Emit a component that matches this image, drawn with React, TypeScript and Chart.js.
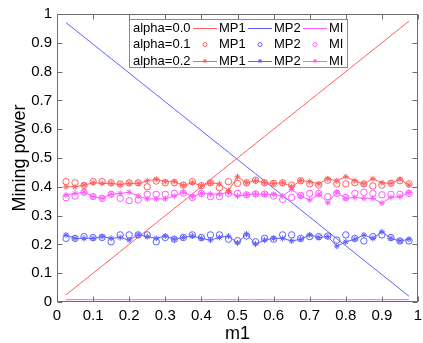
import React, { useEffect, useRef } from "react";
import { Chart, registerables } from "chart.js";
Chart.register(...registerables);

const M1 = [0.025, 0.05, 0.075, 0.1, 0.125, 0.15, 0.175, 0.2, 0.225, 0.25, 0.275, 0.3, 0.325, 0.35, 0.375, 0.4, 0.425, 0.45, 0.475, 0.5, 0.525, 0.55, 0.575, 0.6, 0.625, 0.65, 0.675, 0.7, 0.725, 0.75, 0.775, 0.8, 0.825, 0.85, 0.875, 0.9, 0.925, 0.95, 0.975];

const MP1_A0 = [0.025, 0.05, 0.075, 0.1, 0.125, 0.15, 0.175, 0.2, 0.225, 0.25, 0.275, 0.3, 0.325, 0.35, 0.375, 0.4, 0.425, 0.45, 0.475, 0.5, 0.525, 0.55, 0.575, 0.6, 0.625, 0.65, 0.675, 0.7, 0.725, 0.75, 0.775, 0.8, 0.825, 0.85, 0.875, 0.9, 0.925, 0.95, 0.975];
const MP2_A0 = [0.97, 0.945, 0.92, 0.895, 0.87, 0.845, 0.82, 0.795, 0.77, 0.745, 0.72, 0.695, 0.67, 0.645, 0.62, 0.595, 0.57, 0.545, 0.52, 0.495, 0.47, 0.445, 0.42, 0.395, 0.37, 0.345, 0.32, 0.295, 0.27, 0.245, 0.22, 0.195, 0.17, 0.145, 0.12, 0.095, 0.07, 0.045, 0.02];
const MI_A0 = [0.008, 0.008, 0.008, 0.008, 0.008, 0.008, 0.008, 0.008, 0.008, 0.008, 0.008, 0.008, 0.008, 0.008, 0.008, 0.008, 0.008, 0.008, 0.008, 0.008, 0.008, 0.008, 0.008, 0.008, 0.008, 0.008, 0.008, 0.008, 0.008, 0.008, 0.008, 0.008, 0.008, 0.008, 0.008, 0.008, 0.008, 0.008, 0.008];

const MP1_A1 = [0.418, 0.414, 0.405, 0.418, 0.418, 0.414, 0.41, 0.414, 0.414, 0.4, 0.42, 0.414, 0.414, 0.406, 0.418, 0.404, 0.414, 0.397, 0.418, 0.412, 0.414, 0.423, 0.414, 0.412, 0.414, 0.406, 0.421, 0.41, 0.406, 0.423, 0.41, 0.41, 0.414, 0.41, 0.403, 0.406, 0.412, 0.421, 0.41];
const MP2_A1 = [0.221, 0.221, 0.227, 0.224, 0.224, 0.209, 0.233, 0.233, 0.233, 0.233, 0.209, 0.224, 0.218, 0.224, 0.233, 0.224, 0.233, 0.233, 0.218, 0.213, 0.229, 0.209, 0.221, 0.218, 0.233, 0.233, 0.221, 0.227, 0.227, 0.229, 0.215, 0.233, 0.221, 0.212, 0.227, 0.233, 0.224, 0.212, 0.212];
const MI_A1 = [0.362, 0.368, 0.381, 0.366, 0.36, 0.374, 0.36, 0.352, 0.354, 0.374, 0.374, 0.374, 0.377, 0.378, 0.363, 0.377, 0.366, 0.366, 0.377, 0.377, 0.372, 0.375, 0.375, 0.368, 0.356, 0.363, 0.37, 0.377, 0.377, 0.366, 0.377, 0.363, 0.377, 0.381, 0.377, 0.372, 0.374, 0.374, 0.377];

const MP1_A2 = [0.4, 0.4, 0.406, 0.414, 0.412, 0.412, 0.408, 0.412, 0.412, 0.421, 0.426, 0.418, 0.418, 0.405, 0.414, 0.404, 0.414, 0.41, 0.387, 0.435, 0.414, 0.421, 0.414, 0.412, 0.414, 0.4, 0.422, 0.418, 0.41, 0.428, 0.421, 0.435, 0.421, 0.41, 0.428, 0.414, 0.412, 0.426, 0.406];
const MP2_A2 = [0.233, 0.221, 0.221, 0.221, 0.227, 0.221, 0.224, 0.215, 0.233, 0.227, 0.221, 0.229, 0.218, 0.224, 0.229, 0.221, 0.215, 0.224, 0.229, 0.205, 0.236, 0.201, 0.215, 0.221, 0.221, 0.212, 0.218, 0.233, 0.224, 0.227, 0.194, 0.209, 0.218, 0.233, 0.221, 0.244, 0.221, 0.212, 0.218];
const MI_A2 = [0.372, 0.377, 0.381, 0.366, 0.36, 0.374, 0.377, 0.381, 0.368, 0.358, 0.358, 0.358, 0.368, 0.381, 0.366, 0.377, 0.375, 0.375, 0.381, 0.368, 0.372, 0.375, 0.374, 0.374, 0.368, 0.391, 0.368, 0.354, 0.374, 0.345, 0.381, 0.36, 0.363, 0.36, 0.36, 0.343, 0.363, 0.366, 0.38];

const LEGEND_ROWS = ["alpha=0.0", "alpha=0.1", "alpha=0.2"];
const SERIES_NAMES = ["MP1", "MP2", "MI"];
const X_TITLE = "m1";
const Y_TITLE = "Mining power";

const RED = "rgb(255,95,95)";
const BLUE = "rgb(95,95,255)";
const MAG = "rgb(255,90,255)";
const COLORS = [RED, BLUE, MAG];
const AXIS = "#6e6e6e";
const FONT = "'Liberation Sans', Arial, Helvetica, sans-serif";

const pts = (ys: number[]) => M1.map((x, i) => ({ x, y: ys[i] }));

function drawStar(ctx: CanvasRenderingContext2D, x: number, y: number, r: number) {
  ctx.beginPath();
  ctx.moveTo(x - r, y); ctx.lineTo(x + r, y);
  ctx.moveTo(x, y - r); ctx.lineTo(x, y + r);
  const d = r * 0.7071;
  ctx.moveTo(x - d, y - d); ctx.lineTo(x + d, y + d);
  ctx.moveTo(x - d, y + d); ctx.lineTo(x + d, y - d);
  ctx.stroke();
}

const framePlugin = {
  id: "frame",
  afterDatasetsDraw(chart: any) {
    const { ctx, chartArea: a, scales } = chart;
    ctx.save();
    ctx.strokeStyle = AXIS;
    ctx.lineWidth = 1;
    const L = Math.round(a.left) + 0.5, R = Math.round(a.right) - 0.5;
    const T = Math.round(a.top) + 0.5, B = Math.round(a.bottom) - 0.5;
    ctx.strokeRect(L, T, R - L, B - T);
    const tl = 5;
    ctx.beginPath();
    scales.x.ticks.forEach((t: any) => {
      const px = Math.round(scales.x.getPixelForValue(t.value)) + 0.5;
      ctx.moveTo(px, B); ctx.lineTo(px, B - tl);
      ctx.moveTo(px, T); ctx.lineTo(px, T + tl);
    });
    scales.y.ticks.forEach((t: any) => {
      const py = Math.round(scales.y.getPixelForValue(t.value)) + 0.5;
      ctx.moveTo(L, py); ctx.lineTo(L + tl, py);
      ctx.moveTo(R, py); ctx.lineTo(R - tl, py);
    });
    ctx.stroke();

    // legend
    const bx = 129.5, by = 19.5, bw = 218, bh = 48;
    ctx.fillStyle = "#fff";
    ctx.fillRect(bx, by, bw, bh);
    ctx.strokeStyle = "#8a8a8a";
    ctx.strokeRect(bx, by, bw, bh);
    ctx.font = `13px ${FONT}`;
    ctx.textBaseline = "middle";
    ctx.fillStyle = "#000";
    const rowY = [28, 44.5, 61];
    const lineX = [193, 248, 303];
    const textX = [219, 274, 329];
    LEGEND_ROWS.forEach((lab, r) => {
      const y = rowY[r];
      ctx.fillStyle = "#000";
      ctx.textAlign = "left";
      ctx.fillText(lab, 133, y);
      SERIES_NAMES.forEach((nm, s) => {
        ctx.strokeStyle = COLORS[s];
        ctx.lineWidth = 1;
        const x0 = lineX[s], x1 = x0 + 24, xc = (x0 + x1) / 2;
        if (r !== 1) {
          ctx.beginPath();
          ctx.moveTo(x0, Math.round(y) + 0.5);
          ctx.lineTo(x1, Math.round(y) + 0.5);
          ctx.stroke();
        }
        if (r === 1) {
          ctx.beginPath();
          ctx.arc(xc, y, 2, 0, Math.PI * 2);
          ctx.stroke();
        }
        if (r === 2) {
          drawStar(ctx, xc, y, 2);
        }
        ctx.fillStyle = "#000";
        ctx.fillText(nm, textX[s], y);
      });
    });
    ctx.restore();
  },
};

export default function App() {
  const ref = useRef<HTMLCanvasElement>(null);
  useEffect(() => {
    if (!ref.current) return;
    const fitX = (s: any) => { s.height = 41; s.paddingLeft = 0; s.paddingRight = 0; };
    const fitY = (s: any) => { s.width = 57; s.paddingTop = 0; s.paddingBottom = 0; };
    const lineDs = (ys: number[], c: string) => ({
      data: pts(ys), borderColor: c, backgroundColor: c, borderWidth: 1,
      pointRadius: 0, showLine: true, tension: 0,
    });
    const circDs = (ys: number[], c: string) => ({
      data: pts(ys), borderColor: c, backgroundColor: "rgba(0,0,0,0)", borderWidth: 1,
      pointRadius: 3.2, pointStyle: "circle", showLine: false,
    });
    const starDs = (ys: number[], c: string) => ({
      data: pts(ys), borderColor: c, backgroundColor: c, borderWidth: 1,
      pointRadius: 3, pointStyle: "star", showLine: true, tension: 0,
    });
    const chart = new Chart(ref.current, {
      type: "scatter",
      data: {
        datasets: [
          starDs(MP1_A2, RED), starDs(MP2_A2, BLUE), starDs(MI_A2, MAG),
          circDs(MP1_A1, RED), circDs(MP2_A1, BLUE), circDs(MI_A1, MAG),
          lineDs(MP1_A0, RED), lineDs(MP2_A0, BLUE), lineDs(MI_A0, MAG),
        ] as any,
      },
      plugins: [framePlugin],
      options: {
        animation: false,
        responsive: false,
        devicePixelRatio: 1,
        layout: { padding: { top: 14, right: 3, left: 0, bottom: 0 } },
        plugins: { legend: { display: false }, tooltip: { enabled: false } },
        scales: {
          x: {
            type: "linear", min: 0, max: 1,
            grid: { display: false, drawTicks: false, tickLength: 0 },
            border: { display: false },
            ticks: {
              stepSize: 0.1, padding: 5, color: "#000", maxRotation: 0, autoSkip: false,
              font: { family: FONT, size: 15 },
              callback: (v: any) => String(Number(Number(v).toFixed(1))),
            },
            title: { display: true, text: X_TITLE, color: "#000", font: { family: FONT, size: 18 }, padding: { top: 0, bottom: -2 } },
            afterFit: fitX,
          },
          y: {
            type: "linear", min: 0, max: 1,
            grid: { display: false, drawTicks: false, tickLength: 0 },
            border: { display: false },
            ticks: {
              stepSize: 0.1, padding: 5, color: "#000", autoSkip: false,
              font: { family: FONT, size: 15 },
              callback: (v: any) => String(Number(Number(v).toFixed(1))),
            },
            title: { display: true, text: Y_TITLE, color: "#000", font: { family: FONT, size: 18 }, padding: { top: 9, bottom: 0 } },
            afterFit: fitY,
          },
        },
      } as any,
    });
    return () => chart.destroy();
  }, []);
  return (
    <div style={{ position: "fixed", left: 0, top: 0, width: 423, height: 343, background: "#fff" }}>
      <canvas ref={ref} width={423} height={343} style={{ width: 423, height: 343, display: "block" }} />
    </div>
  );
}
